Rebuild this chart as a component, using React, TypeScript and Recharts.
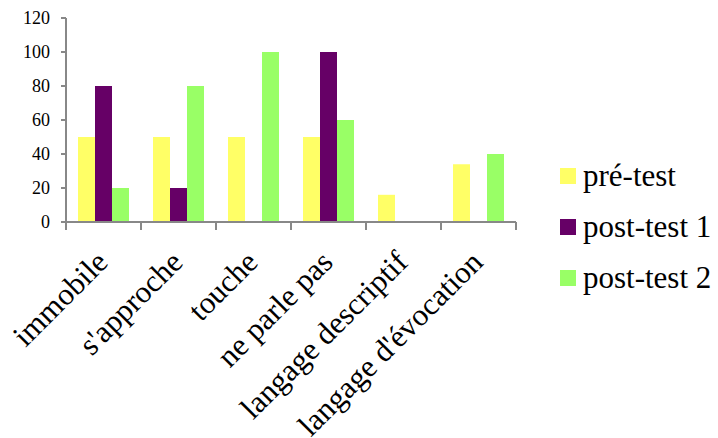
import React from 'react'
import { BarChart, Bar, XAxis, YAxis } from 'recharts'

const categories = [
  'immobile',
  "s'approche",
  'touche',
  'ne parle pas',
  'langage descriptif',
  "langage d'évocation",
]
const preTest = [50, 50, 50, 50, 16, 34]
const postTest1 = [80, 20, 0, 100, 0, 0]
const postTest2 = [20, 80, 100, 60, 0, 40]
const yTicks = [0, 20, 40, 60, 80, 100, 120]

const series = [
  { key: 'pre', name: 'pré-test', color: '#FFFF66' },
  { key: 'post1', name: 'post-test 1', color: '#660066' },
  { key: 'post2', name: 'post-test 2', color: '#99FF66' },
]

const data = categories.map((c, i) => ({
  name: c,
  pre: preTest[i],
  post1: postTest1[i],
  post2: postTest2[i],
}))

const FONT = "'Liberation Serif', 'DejaVu Serif', serif"
const AXIS = '#888888'
const BAND = 75

const CategoryTick = (props: any) => {
  const { x, y, payload, index } = props
  const last = index === categories.length - 1
  const ax = x + 6
  const ay = y + 42
  return (
    <g>
      <line x1={x - BAND / 2} y1={y} x2={x - BAND / 2} y2={y + 8} stroke={AXIS} strokeWidth={2} />
      {last && (
        <line x1={x + BAND / 2} y1={y} x2={x + BAND / 2} y2={y + 8} stroke={AXIS} strokeWidth={2} />
      )}
      <text
        x={ax}
        y={ay}
        textAnchor="end"
        transform={`rotate(-45, ${ax}, ${ay})`}
        style={{ fontFamily: FONT, fontSize: 31 }}
        fill="#000"
      >
        {payload.value}
      </text>
    </g>
  )
}

const ValueTick = (props: any) => {
  const { x, y, payload } = props
  return (
    <g>
      <line x1={66 - 5} y1={y} x2={66} y2={y} stroke={AXIS} strokeWidth={2} />
      <text
        x={x}
        y={y}
        dy={6}
        textAnchor="end"
        style={{ fontFamily: FONT, fontSize: 18 }}
        fill="#000"
      >
        {payload.value}
      </text>
    </g>
  )
}

export default function App() {
  return (
    <div style={{ position: 'absolute', left: 0, top: 0, width: 718, height: 438, background: '#fff' }}>
      <BarChart
        width={718}
        height={438}
        data={data}
        margin={{ top: 18, right: 202, left: 0, bottom: 0 }}
        barCategoryGap="16%"
        barGap={0}
      >
        <YAxis
          domain={[0, 120]}
          ticks={yTicks}
          width={66}
          interval={0}
          axisLine={{ stroke: AXIS, strokeWidth: 2 }}
          tickLine={false}
          tickSize={5}
          tickMargin={11}
          tick={<ValueTick />}
        />
        <XAxis
          dataKey="name"
          height={216}
          interval={0}
          axisLine={{ stroke: AXIS, strokeWidth: 2 }}
          tickLine={false}
          tickSize={0}
          tickMargin={0}
          tick={<CategoryTick />}
        />
        {series.map((s) => (
          <Bar key={s.key} dataKey={s.key} name={s.name} fill={s.color} isAnimationActive={false} />
        ))}
      </BarChart>
      <div
        style={{
          position: 'absolute',
          left: 560,
          top: 150,
          fontFamily: FONT,
          fontSize: 31,
          color: '#000',
        }}
      >
        {series.map((s) => (
          <div key={s.key} style={{ display: 'flex', alignItems: 'center', height: 51 }}>
            <span style={{ width: 16, height: 16, background: s.color, marginRight: 7 }} />
            <span>{s.name}</span>
          </div>
        ))}
      </div>
    </div>
  )
}
